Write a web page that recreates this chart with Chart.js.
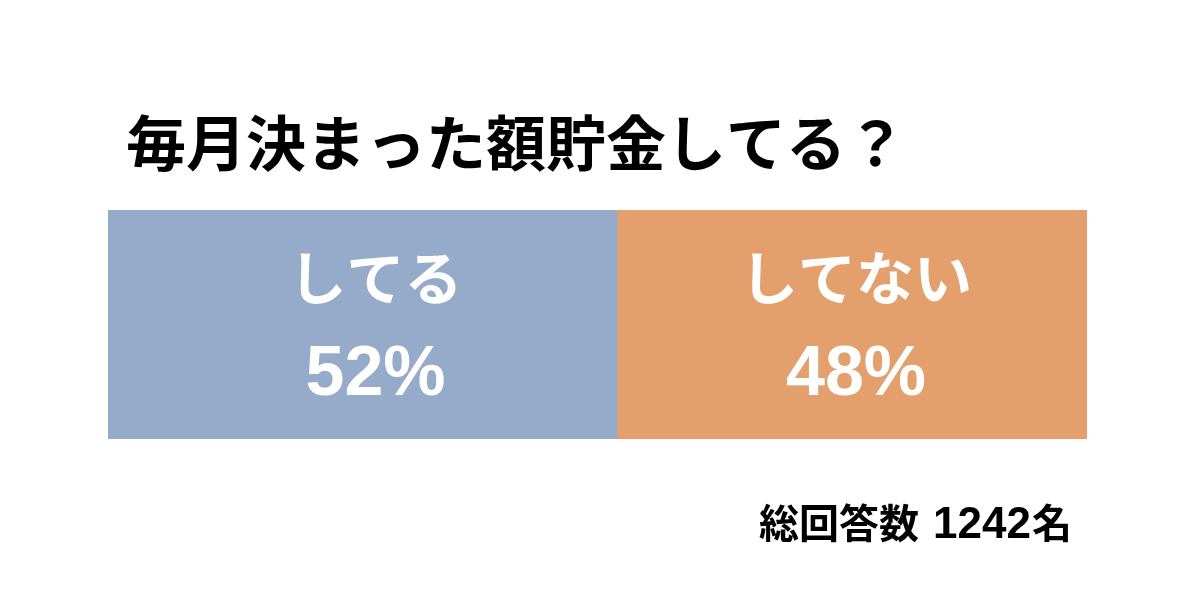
<!DOCTYPE html>
<html>
<head>
<meta charset="utf-8">
<script src="https://cdn.jsdelivr.net/npm/chart.js@4.4.1/dist/chart.umd.min.js"></script>
<style>
  html, body { margin: 0; padding: 0; background: #fff; }
  #wrap { width: 1200px; height: 606px; position: relative; }
</style>
</head>
<body>
<div id="wrap"><canvas id="myChart" width="1200" height="606"></canvas></div>
<script>
// Chart data
const categories = ['毎月決まった額貯金してる？'];
const seriesNames = ['してる', 'してない'];
const seriesValues = [[52], [48]];
const seriesColors = ['#95abc9', '#e3a06d'];
const totalParts = ['総回答数', '1242', '名'];

const CJK = '"Noto Sans CJK JP", sans-serif';
const LATIN = '"Liberation Sans", Arial, sans-serif';

// Draw title, in-bar labels and footer
const textPlugin = {
    id: 'textPlugin',
    afterDatasetsDraw(chart) {
        const ctx = chart.ctx;
        ctx.save();
        ctx.fillStyle = '#000';
        ctx.textBaseline = 'middle';
        ctx.textAlign = 'left';
        ctx.font = 'bold 60px ' + CJK;
        ctx.fillText(categories[0], 126, 143);

        const shift = [13, 4]; // labels sit a bit right of the bar centre
        chart.data.datasets.forEach((ds, i) => {
            const bar = chart.getDatasetMeta(i).data[0];
            const cx = (bar.x + bar.base) / 2 + shift[i];
            ctx.fillStyle = '#fff';
            ctx.textAlign = 'center';
            ctx.textBaseline = 'middle';
            ctx.font = 'bold 58px ' + CJK;
            ctx.fillText(ds.label, cx, 278);
            ctx.textBaseline = 'alphabetic';
            ctx.font = 'bold 70px ' + LATIN;
            ctx.fillText(ds.data[0] + '%', cx, 395);
        });

        // footer: kanji + latin digits, right aligned
        ctx.fillStyle = '#000';
        ctx.textAlign = 'left';
        ctx.textBaseline = 'alphabetic';
        const fonts = ['bold 40px ' + CJK, 'bold 44px ' + LATIN, 'bold 40px ' + CJK];
        const gaps = [14, 1, 0];
        let widths = totalParts.map((t, i) => { ctx.font = fonts[i]; return ctx.measureText(t).width + gaps[i]; });
        let x = 1072 - widths.reduce((a, b) => a + b, 0);
        totalParts.forEach((t, i) => {
            ctx.font = fonts[i];
            ctx.fillText(t, x, 538);
            x += widths[i];
        });
        ctx.restore();
    }
};

new Chart(document.getElementById('myChart'), {
    type: 'bar',
    data: {
        labels: categories,
        datasets: seriesNames.map((name, i) => ({
            label: name,
            data: seriesValues[i],
            backgroundColor: seriesColors[i],
            borderWidth: 0,
            barPercentage: 1,
            categoryPercentage: 1
        }))
    },
    options: {
        indexAxis: 'y',
        responsive: false,
        animation: false,
        layout: { padding: { left: 108, right: 113, top: 210, bottom: 167 } },
        scales: {
            x: { stacked: true, min: 0, max: 100, display: false },
            y: { stacked: true, display: false }
        },
        plugins: {
            legend: { display: false },
            tooltip: { enabled: false }
        }
    },
    plugins: [textPlugin]
});
</script>
</body>
</html>
